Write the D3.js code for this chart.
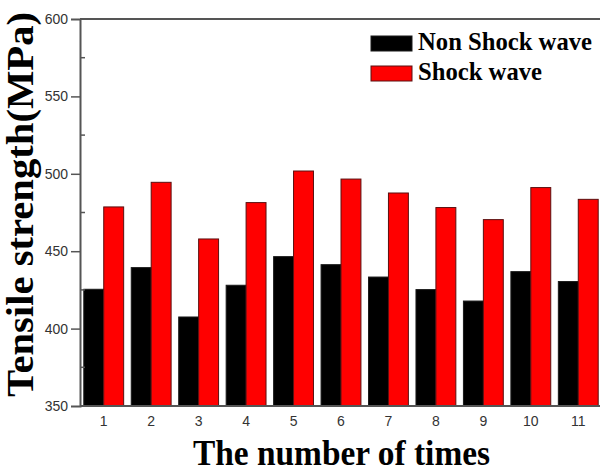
<!DOCTYPE html>
<html>
<head>
<meta charset="utf-8">
<script src="https://cdn.jsdelivr.net/npm/d3@7"></script>
<style>
  body { margin: 0; background: #fff; }
  svg { display: block; }
</style>
</head>
<body>
<svg id="chart"></svg>
<script>
// chart data
const categories = ["1", "2", "3", "4", "5", "6", "7", "8", "9", "10", "11"];
const seriesNames = ["Non Shock wave", "Shock wave"];
const nonShock = [425.4, 439.4, 407.5, 428, 446.5, 441.3, 433.3, 425.2, 417.8, 436.8, 430.4];
const shock = [478.6, 494.5, 457.9, 481.4, 501.8, 496.6, 487.6, 478.2, 470.4, 491.1, 483.5];
const yTicks = [350, 400, 450, 500, 550, 600];
const yMinorTicks = [375, 425, 475, 525, 575];

const width = 600;
const height = 472;
const plotLeft = 80, plotRight = 602, plotTop = 19, plotBottom = 406;

const svg = d3.select("#chart")
    .attr("width", width)
    .attr("height", height);

const x = d3.scaleBand()
    .domain(categories)
    .range([plotLeft, plotRight])
    .paddingInner(0.16)
    .paddingOuter(0.08);

const xSub = d3.scaleBand()
    .domain(seriesNames)
    .range([0, x.bandwidth()]);

const y = d3.scaleLinear()
    .domain([350, 600])
    .range([plotBottom, plotTop]);

const colors = { "Non Shock wave": "#000000", "Shock wave": "#ff0000" };
const strokes = { "Non Shock wave": "#1a1a1a", "Shock wave": "#5a1010" };

const rows = categories.map((c, i) => ({ cat: c, values: [
    { name: seriesNames[0], v: nonShock[i] },
    { name: seriesNames[1], v: shock[i] }
] }));

// bars
const groups = svg.append("g")
    .selectAll("g")
    .data(rows)
    .enter()
    .append("g")
    .attr("transform", d => `translate(${x(d.cat)},0)`);

groups.selectAll("rect")
    .data(d => d.values)
    .enter()
    .append("rect")
    .attr("x", d => xSub(d.name))
    .attr("y", d => y(d.v))
    .attr("width", xSub.bandwidth())
    .attr("height", d => y(350) - y(d.v))
    .attr("fill", d => colors[d.name])
    .attr("stroke", d => strokes[d.name])
    .attr("stroke-width", 1);

// frame (top line)
svg.append("line")
    .attr("x1", plotLeft).attr("x2", width)
    .attr("y1", plotTop).attr("y2", plotTop)
    .attr("stroke", "#555").attr("stroke-width", 2);

// y axis: major ticks outward, minor ticks inward
const yAxis = svg.append("g")
    .attr("transform", `translate(${plotLeft},0)`)
    .call(d3.axisLeft(y).tickValues(yTicks).tickSize(9).tickPadding(3));
yAxis.select(".domain").attr("stroke", "#555").attr("stroke-width", 2);
yAxis.selectAll(".tick line").attr("stroke", "#555").attr("stroke-width", 1.5);
yAxis.selectAll(".tick text")
    .attr("font-family", "'Liberation Sans', Arial, sans-serif")
    .attr("font-size", 14)
    .attr("fill", "#333");
yAxis.selectAll(".tick").filter(d => d === 600 || d === 350).select("line").remove();

svg.append("g")
    .selectAll("line")
    .data(yMinorTicks)
    .enter()
    .append("line")
    .attr("x1", plotLeft).attr("x2", plotLeft + 5)
    .attr("y1", d => y(d)).attr("y2", d => y(d))
    .attr("stroke", "#555").attr("stroke-width", 1.5);

// x axis
const xAxis = svg.append("g")
    .attr("transform", `translate(0,${plotBottom})`)
    .call(d3.axisBottom(x).tickSize(0).tickPadding(10));
xAxis.select(".domain").attr("stroke", "#555").attr("stroke-width", 2)
    .attr("d", `M${plotLeft},0H${width}`);
xAxis.selectAll(".tick text")
    .attr("font-family", "'Liberation Sans', Arial, sans-serif")
    .attr("font-size", 14)
    .attr("fill", "#333");

// axis titles
svg.append("text")
    .attr("x", 193)
    .attr("y", 465)
    .attr("font-family", "'Liberation Serif', 'Times New Roman', serif")
    .attr("font-weight", "bold")
    .attr("font-size", 35)
    .attr("textLength", 297)
    .attr("lengthAdjust", "spacingAndGlyphs")
    .text("The number of times");

svg.append("text")
    .attr("transform", "translate(33,397) rotate(-90)")
    .attr("font-family", "'Liberation Serif', 'Times New Roman', serif")
    .attr("font-weight", "bold")
    .attr("font-size", 38)
    .attr("textLength", 385)
    .attr("lengthAdjust", "spacingAndGlyphs")
    .text("Tensile strength(MPa)");

// legend
const legend = svg.append("g")
    .selectAll("g")
    .data(seriesNames)
    .enter()
    .append("g")
    .attr("transform", (d, i) => `translate(371,${36 + i * 30})`);

legend.append("rect")
    .attr("width", 41)
    .attr("height", 15)
    .attr("fill", d => colors[d])
    .attr("stroke", d => strokes[d])
    .attr("stroke-width", 1);

legend.append("text")
    .attr("x", 47)
    .attr("y", 14)
    .attr("font-family", "'Liberation Serif', 'Times New Roman', serif")
    .attr("font-weight", "bold")
    .attr("font-size", 25)
    .attr("textLength", (d, i) => i === 0 ? 174 : 124)
    .attr("lengthAdjust", "spacingAndGlyphs")
    .text(d => d);
</script>
</body>
</html>
